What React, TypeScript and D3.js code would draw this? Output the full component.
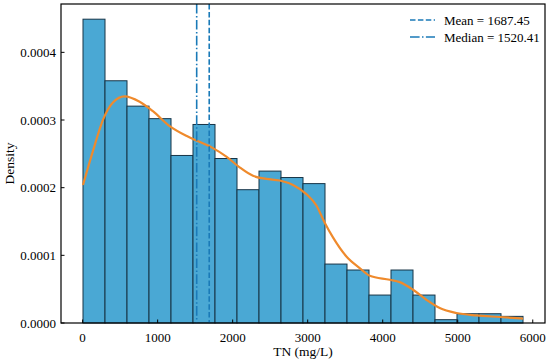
import React from "react";
import * as d3 from "d3";

const W = 550;
const H = 361;
const MARGIN = { top: 4, right: 5, bottom: 38, left: 61 };

// histogram (density) of TN, 20 equal bins between min and max
const BIN_MIN = 5;
const BIN_MAX = 5870;
const densities = [
  0.000449, 0.000358, 0.0003205, 0.000302, 0.0002476, 0.0002934, 0.0002431,
  0.000197, 0.0002245, 0.000215, 0.000206, 0.0000871, 0.0000783, 0.0000413,
  0.0000783, 0.0000413, 0.0000049, 0.0000137, 0.0000137, 0.0000098,
];

// KDE curve
const kdeX = [
  5, 137, 271, 404, 560, 760, 937, 1160, 1383, 1516, 1737, 1916, 2093, 2271,
  2449, 2627, 2804, 2983, 3116, 3227, 3337, 3516, 3693, 3827, 4093, 4227, 4404,
  4582, 4760, 4982, 5249, 5560, 5870,
];
const kdeY = [
  0.000204, 0.000254, 0.0003003, 0.000326, 0.000335, 0.000327, 0.000313,
  0.000291, 0.0002766, 0.0002697, 0.0002585, 0.000246, 0.000230, 0.0002175,
  0.000213, 0.0002106, 0.000204, 0.0001905, 0.0001737, 0.0001482, 0.0001266,
  0.0000984, 0.0000812, 0.0000698, 0.0000639, 0.0000604, 0.0000492,
  0.0000344, 0.0000222, 0.0000148, 0.0000112, 0.0000089, 0.0000065,
];

const MEAN = 1687.45;
const MEDIAN = 1520.41;

const xTicks = [0, 1000, 2000, 3000, 4000, 5000, 6000];
const yTicks = [0, 0.0001, 0.0002, 0.0003, 0.0004];

const FONT = "'Liberation Serif', 'Times New Roman', serif";
const BAR_FILL = "#4aa8d4";
const BAR_EDGE = "#173447";
const LINE_BLUE = "#1a7ab8";
const ORANGE = "#ef8a2c";

export default function App() {
  const iw = W - MARGIN.left - MARGIN.right;
  const ih = H - MARGIN.top - MARGIN.bottom;

  const pad = (BIN_MAX - BIN_MIN) * 0.05;
  const x = d3.scaleLinear().domain([BIN_MIN - pad, BIN_MAX + pad]).range([0, iw]);
  const y = d3
    .scaleLinear()
    .domain([0, d3.max(densities)! * 1.05])
    .range([ih, 0]);

  const bw = (BIN_MAX - BIN_MIN) / densities.length;

  const kdeLine = d3
    .line<number>()
    .x((d, i) => x(kdeX[i]))
    .y((d) => y(d))
    .curve(d3.curveMonotoneX);

  return (
    <svg
      width={W}
      height={H}
      style={{ position: "absolute", left: 0, top: 0, background: "#fff" }}
      fontFamily={FONT}
    >
      <g transform={`translate(${MARGIN.left},${MARGIN.top})`}>
        {densities.map((d, i) => {
          const x0 = x(BIN_MIN + i * bw);
          const x1 = x(BIN_MIN + (i + 1) * bw);
          return (
            <rect
              key={i}
              x={x0}
              y={y(d)}
              width={x1 - x0}
              height={ih - y(d)}
              fill={BAR_FILL}
              stroke={BAR_EDGE}
              strokeWidth={1}
            />
          );
        })}

        <path d={kdeLine(kdeY) || ""} fill="none" stroke={ORANGE} strokeWidth={2.2} />

        <line
          x1={x(MEAN)}
          x2={x(MEAN)}
          y1={0}
          y2={ih}
          stroke={LINE_BLUE}
          strokeWidth={1.6}
          strokeDasharray="5.5,2.4"
        />
        <line
          x1={x(MEDIAN)}
          x2={x(MEDIAN)}
          y1={0}
          y2={ih}
          stroke={LINE_BLUE}
          strokeWidth={1.6}
          strokeDasharray="9.6,2.4,1.5,2.4"
        />

        {/* frame */}
        <rect x={0} y={0} width={iw} height={ih} fill="none" stroke="#000" strokeWidth={1.2} />

        {/* x ticks */}
        {xTicks.map((t) => (
          <g key={t} transform={`translate(${x(t)},${ih})`}>
            <line y1={0} y2={-3.5} stroke="#000" strokeWidth={1} />
            <text y={19} textAnchor="middle" fontSize={13} fill="#000">
              {t}
            </text>
          </g>
        ))}

        {/* y ticks */}
        {yTicks.map((t) => (
          <g key={t} transform={`translate(0,${y(t)})`}>
            <line x1={0} x2={3.5} stroke="#000" strokeWidth={1} />
            <text x={-5} dy="0.35em" textAnchor="end" fontSize={13} fill="#000">
              {t.toFixed(4)}
            </text>
          </g>
        ))}

        <text
          x={iw / 2}
          y={ih + 33}
          textAnchor="middle"
          fontSize={13.5}
          fill="#000"
        >
          TN (mg/L)
        </text>
        <text
          transform={`translate(${-47},${ih / 2}) rotate(-90)`}
          textAnchor="middle"
          fontSize={13.5}
          fill="#000"
        >
          Density
        </text>

        {/* legend */}
        <g transform={`translate(${410 - MARGIN.left},${20 - MARGIN.top})`}>
          <line x1={0} x2={25} y1={0} y2={0} stroke={LINE_BLUE} strokeWidth={1.6} strokeDasharray="5.5,2.4" />
          <text x={34} dy="0.35em" fontSize={13} fill="#000">
            Mean = 1687.45
          </text>
          <line x1={0} x2={25} y1={17} y2={17} stroke={LINE_BLUE} strokeWidth={1.6} strokeDasharray="9.6,2.4,1.5,2.4" />
          <text x={34} y={17} dy="0.35em" fontSize={13} fill="#000">
            Median = 1520.41
          </text>
        </g>
      </g>
    </svg>
  );
}
